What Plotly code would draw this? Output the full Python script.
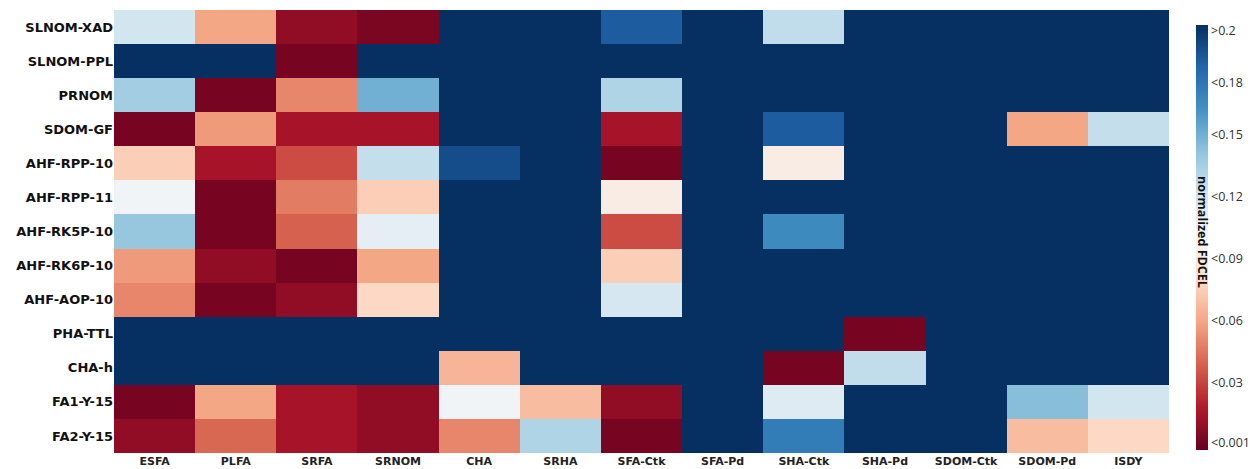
import plotly.graph_objects as go
import plotly.express as px

# Sample sets (rows) and reference materials (columns)
samples = [
    "SLNOM-XAD", "SLNOM-PPL", "PRNOM", "SDOM-GF", "AHF-RPP-10", "AHF-RPP-11",
    "AHF-RK5P-10", "AHF-RK6P-10", "AHF-AOP-10", "PHA-TTL", "CHA-h",
    "FA1-Y-15", "FA2-Y-15",
]
references = [
    "ESFA", "PLFA", "SRFA", "SRNOM", "CHA", "SRHA", "SFA-Ctk", "SFA-Pd",
    "SHA-Ctk", "SHA-Pd", "SDOM-Ctk", "SDOM-Pd", "ISDY",
]

# Normalized FDCEL per sample (values above 0.2 stored as 0.25, shown as ">0.2")
fdcel_slnom_xad = [0.120, 0.060, 0.009, 0.003, 0.25, 0.25, 0.186, 0.25, 0.126, 0.25, 0.25, 0.25, 0.25]
fdcel_slnom_ppl = [0.25, 0.25, 0.002, 0.25, 0.25, 0.25, 0.25, 0.25, 0.25, 0.25, 0.25, 0.25, 0.25]
fdcel_prnom = [0.136, 0.002, 0.050, 0.150, 0.25, 0.25, 0.132, 0.25, 0.25, 0.25, 0.25, 0.25, 0.25]
fdcel_sdom_gf = [0.002, 0.056, 0.015, 0.015, 0.25, 0.25, 0.015, 0.25, 0.186, 0.25, 0.25, 0.060, 0.125]
fdcel_ahf_rpp_10 = [0.075, 0.015, 0.033, 0.125, 0.192, 0.25, 0.002, 0.25, 0.092, 0.25, 0.25, 0.25, 0.25]
fdcel_ahf_rpp_11 = [0.104, 0.002, 0.047, 0.075, 0.25, 0.25, 0.092, 0.25, 0.25, 0.25, 0.25, 0.25, 0.25]
fdcel_ahf_rk5p_10 = [0.140, 0.002, 0.039, 0.110, 0.25, 0.25, 0.033, 0.25, 0.166, 0.25, 0.25, 0.25, 0.25]
fdcel_ahf_rk6p_10 = [0.056, 0.009, 0.002, 0.060, 0.25, 0.25, 0.075, 0.25, 0.25, 0.25, 0.25, 0.25, 0.25]
fdcel_ahf_aop_10 = [0.050, 0.002, 0.009, 0.079, 0.25, 0.25, 0.118, 0.25, 0.25, 0.25, 0.25, 0.25, 0.25]
fdcel_pha_ttl = [0.25, 0.25, 0.25, 0.25, 0.25, 0.25, 0.25, 0.25, 0.25, 0.002, 0.25, 0.25, 0.25]
fdcel_cha_h = [0.25, 0.25, 0.25, 0.25, 0.065, 0.25, 0.25, 0.25, 0.002, 0.126, 0.25, 0.25, 0.25]
fdcel_fa1_y_15 = [0.002, 0.060, 0.015, 0.009, 0.104, 0.068, 0.009, 0.25, 0.114, 0.25, 0.25, 0.144, 0.120]
fdcel_fa2_y_15 = [0.009, 0.041, 0.015, 0.009, 0.050, 0.132, 0.002, 0.25, 0.172, 0.25, 0.25, 0.068, 0.079]

fdcel = [
    fdcel_slnom_xad, fdcel_slnom_ppl, fdcel_prnom, fdcel_sdom_gf,
    fdcel_ahf_rpp_10, fdcel_ahf_rpp_11, fdcel_ahf_rk5p_10, fdcel_ahf_rk6p_10,
    fdcel_ahf_aop_10, fdcel_pha_ttl, fdcel_cha_h, fdcel_fa1_y_15, fdcel_fa2_y_15,
]

# Colorbar ticks
cbar_vals = [0.2, 0.175, 0.15, 0.12, 0.09, 0.06, 0.03, 0.001]
cbar_text = [">0.2", "<0.18", "<0.15", "<0.12", "<0.09", "<0.06", "<0.03", "<0.001"]

fig = go.Figure(
    go.Heatmap(
        z=fdcel,
        x=references,
        y=samples,
        zmin=-0.0024,
        zmax=0.2029,
        colorscale=px.colors.diverging.RdBu,
        colorbar=dict(
            tickvals=cbar_vals,
            ticktext=cbar_text,
            ticks="",
            thickness=12,
            len=425,
            lenmode="pixels",
            xref="container",
            x=0.956,
            xanchor="left",
            yref="container",
            y=0.4638,
            yanchor="middle",
            xpad=0,
            ypad=0,
            outlinewidth=0,
            tickfont=dict(family="Open Sans", size=12.5, color="#333333"),
        ),
    )
)

fig.add_annotation(
    text="<b>normalized FDCEL</b>",
    xref="paper", yref="paper",
    x=1.0313, y=0.499,
    xanchor="center", yanchor="middle",
    textangle=90,
    showarrow=False,
    font=dict(family="Open Sans", size=12.5, color="#111111"),
)

fig.update_layout(
    width=1251,
    height=469,
    margin=dict(l=114, r=82, t=10, b=16, autoexpand=False),
    paper_bgcolor="white",
    plot_bgcolor="white",
    xaxis=dict(
        showgrid=False,
        zeroline=False,
        ticks="",
        automargin=False,
        tickfont=dict(family="DejaVu Sans", size=11, color="#222222", weight="bold"),
    ),
    yaxis=dict(
        showgrid=False,
        zeroline=False,
        ticks="",
        automargin=False,
        autorange="reversed",
        tickfont=dict(family="DejaVu Sans", size=13, color="#111111", weight="bold"),
    ),
)

fig.write_html("out.html")
